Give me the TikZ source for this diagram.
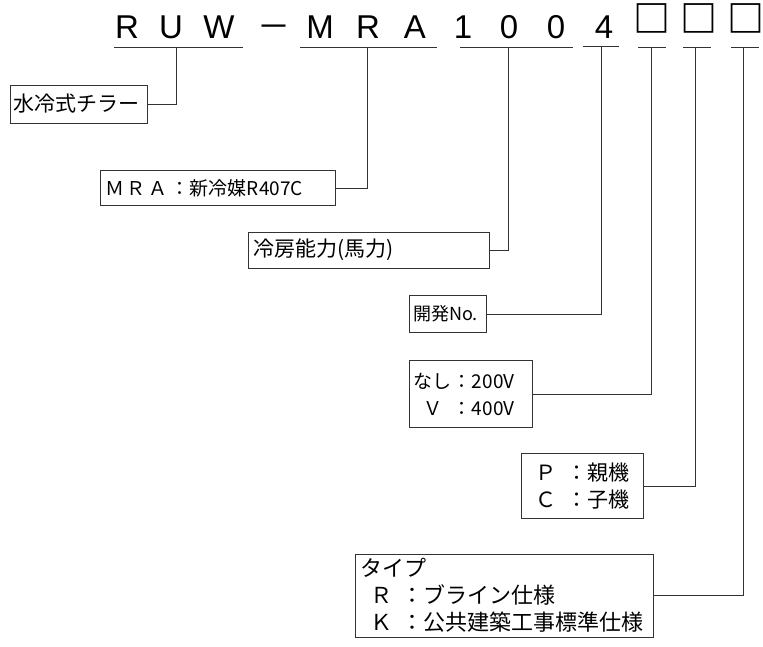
\documentclass[tikz,border=0pt]{standalone}
\usepackage{fontspec}
\setmainfont{Noto Sans CJK JP}
\newfontfamily\lat{Liberation Sans}
\newfontfamily\jp{Noto Sans CJK JP}
\begin{document}
\begin{tikzpicture}[x=1pt,y=-1pt,
  ttl/.style={anchor=base, inner sep=0pt, font=\lat\fontsize{33}{33}\selectfont},
  ttlj/.style={anchor=base, inner sep=0pt, font=\jp\fontsize{33}{33}\selectfont},
  ttlb/.style={anchor=base, inner sep=0pt, font=\jp\bfseries\fontsize{37}{37}\selectfont},
  ul/.style={draw=black!80, line width=1pt},
  conn/.style={draw=black!80, line width=1pt},
  lbox/.style={draw=black!80, line width=1pt, rectangle, inner ysep=0pt, align=left, anchor=center}
]
\useasboundingbox (0,0) rectangle (763,646);
% title characters
\node[ttl]  (t1)  at (127,38) {R};
\node[ttl]  (t2)  at (171,38) {U};
\node[ttl]  (t3)  at (219,38) {W};
\node[ttlj] (t4)  at (274,38) {－};
\node[ttl]  (t5)  at (320,38) {M};
\node[ttl]  (t6)  at (368,38) {R};
\node[ttl]  (t7)  at (415,38) {A};
\node[ttl]  (t8)  at (463,38) {1};
\node[ttl]  (t9)  at (509,38) {0};
\node[ttl]  (t10) at (556,38) {0};
\node[ttl]  (t11) at (604,38) {4};
\node[ttlb] (t12) at (652,32.5) {□};
\node[ttlb] (t13) at (699,32.5) {□};
\node[ttlb] (t14) at (746,32.5) {□};
% underlines
\draw[ul] (114,47) -- (243,47);
\draw[ul] (300,47) -- (437,47);
\draw[ul] (460,47) -- (573,47);
\draw[ul] (583,46) -- (619,46);
\draw[ul] (638,47) -- (666,47);
\draw[ul] (683,47) -- (711,47);
\draw[ul] (731,47) -- (759,47);
\coordinate (c1) at (176,47);
\coordinate (c2) at (367,47);
\coordinate (c3) at (508,47);
\coordinate (c4) at (601,46);
\coordinate (c5) at (651,47);
\coordinate (c6) at (695,47);
\coordinate (c7) at (743,47);
% boxes
\node[lbox, inner xsep=3pt, text width=131pt, minimum height=38pt,
  font=\fontsize{21}{27}\selectfont] (b1) at (78.5,104) {水冷式チラー};
\node[lbox, inner xsep=5pt, text width=225pt, minimum height=35pt,
  font=\fontsize{19}{27}\selectfont] (b2) at (217.5,188) {Ｍ\kern3ptＲ\kern3ptＡ\kern3pt：新冷媒R407C};
\node[lbox, inner xsep=5pt, text width=231pt, minimum height=36pt,
  font=\fontsize{21}{27}\selectfont] (b3) at (368.5,250) {冷房能力(馬力)};
\node[lbox, inner xsep=4pt, text width=69pt, minimum height=37pt,
  font=\fontsize{18}{27}\selectfont] (b4) at (447.5,314) {開発No.};
\node[lbox, inner xsep=4pt, text width=115pt, minimum height=67pt,
  font=\fontsize{19}{27}\selectfont] (b5) at (470.5,394) {なし\kern2pt：200V\\\makebox[40pt][c]{Ｖ}：400V};
\node[lbox, inner xsep=4pt, text width=114pt, minimum height=65pt,
  font=\fontsize{21}{27}\selectfont] (b6) at (582,486) {\makebox[42pt][c]{Ｐ}：親機\\\makebox[42pt][c]{Ｃ}：子機};
\node[lbox, inner xsep=5pt, text width=288pt, minimum height=83pt,
  font=\fontsize{22}{27}\selectfont] (b7) at (504,595.5) {タイプ\\\makebox[42pt][c]{Ｒ}：ブライン仕様\\\makebox[42pt][c]{Ｋ}：公共建築工事標準仕様};
% connectors
\draw[conn] (c1) |- (b1.east);
\draw[conn] (c2) |- (b2.east);
\draw[conn] (c3) |- (b3.east);
\draw[conn] (c4) |- (b4.east);
\draw[conn] (c5) |- (b5.east);
\draw[conn] (c6) |- (b6.east);
\draw[conn] (c7) |- (b7.east);
\end{tikzpicture}
\end{document}
